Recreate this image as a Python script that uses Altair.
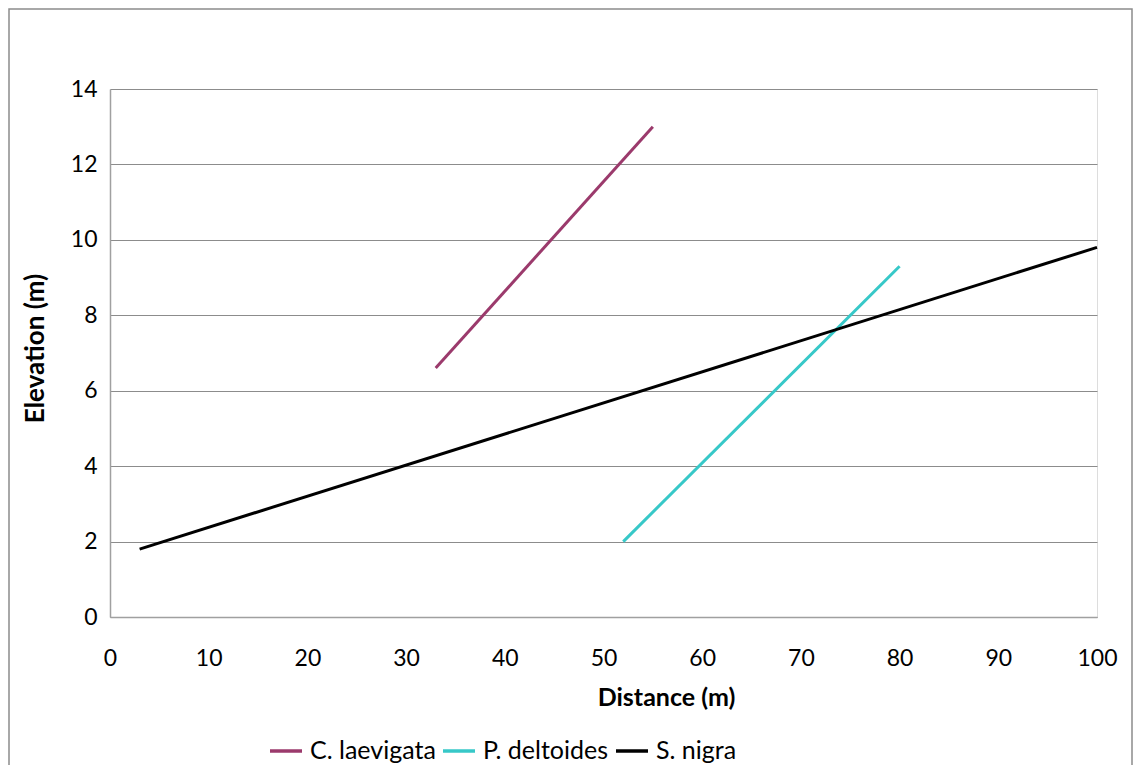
import altair as alt
import pandas as pd

species = ["C. laevigata", "C. laevigata", "P. deltoides", "P. deltoides", "S. nigra", "S. nigra"]
distance = [33, 55, 52, 80, 3, 100]
elevation = [6.6, 13.0, 2.0, 9.3, 1.8, 9.8]

series_names = ["C. laevigata", "P. deltoides", "S. nigra"]
series_colors = ["#9B3A6C", "#37C8C8", "#000000"]

x_ticks = list(range(0, 101, 10))
y_ticks = list(range(0, 15, 2))

df = pd.DataFrame({"species": species, "distance": distance, "elevation": elevation})

FONT = "Lato"

lines = alt.Chart(df).mark_line(strokeWidth=3, clip=False).encode(
    x=alt.X("distance:Q",
            scale=alt.Scale(domain=[0, 100], nice=False, zero=False),
            axis=alt.Axis(values=x_ticks, title="Distance (m)", grid=False,
                          ticks=False, tickSize=0, labelPadding=30,
                          labelFlush=False, labelOverlap=False,
                          labelFontSize=23, labelFont=FONT, labelColor="#000000",
                          titleFontSize=25, titleFont=FONT, titleFontWeight="bold",
                          titleColor="#000000", titlePadding=15,
                          titleX=556, titleAlign="center",
                          domainColor="#A0A0A0", domainWidth=1.5)),
    y=alt.Y("elevation:Q",
            scale=alt.Scale(domain=[0, 14], nice=False, zero=True),
            axis=alt.Axis(values=y_ticks, title="Elevation (m)", grid=True,
                          gridColor="#8C8C8C", gridWidth=1.2,
                          ticks=False, tickSize=0, labelPadding=13,
                          labelFlush=False, labelOverlap=False,
                          labelFontSize=23, labelFont=FONT, labelColor="#000000",
                          titleFontSize=26, titleFont=FONT, titleFontWeight="bold",
                          titleColor="#000000", titlePadding=22,
                          titleY=259, titleAlign="center",
                          domainColor="#A0A0A0", domainWidth=1.5)),
    color=alt.Color("species:N",
                    scale=alt.Scale(domain=series_names, range=series_colors),
                    legend=alt.Legend(title=None, orient="none", direction="horizontal",
                                      legendX=158, legendY=644,
                                      symbolType="stroke", symbolSize=1024,
                                      symbolStrokeWidth=3.5, labelFontSize=25,
                                      labelFont=FONT, labelColor="#000000",
                                      columnPadding=0, labelOffset=6)),
    detail="species:N",
)

frame = alt.Chart(alt.Data(values=[{}])).mark_rect(
    fill=None, stroke="#8C8C8C", strokeWidth=1.5, clip=False
).encode(
    x=alt.value(-101), x2=alt.value(1022),
    y=alt.value(-80), y2=alt.value(700),
)

chart = alt.layer(frame, lines).properties(
    width=987, height=528,
    autosize=alt.AutoSizeParams(type="none"),
    padding={"left": 102, "top": 81, "right": 36, "bottom": 148},
).configure_view(stroke=None).configure(background="white")

chart.save("out.html", embed_options={"renderer": "svg", "actions": False})
